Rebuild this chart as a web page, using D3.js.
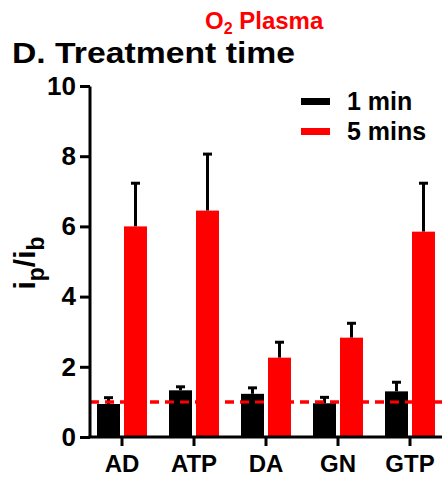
<!DOCTYPE html>
<html>
<head>
<meta charset="utf-8">
<script src="https://cdn.jsdelivr.net/npm/d3@7"></script>
<style>
body{margin:0;background:#fff}
svg{display:block;font-family:"Liberation Sans",Arial,sans-serif;font-weight:bold}
</style>
</head>
<body>
<svg id="chart" width="442" height="478"></svg>
<script>
const cats = ['AD','ATP','DA','GN','GTP']
const series = ['1 min','5 mins']
const min1 = [0.94,1.33,1.23,0.96,1.30]
const min1err = [0.18,0.10,0.17,0.17,0.26]
const min5 = [6.0,6.45,2.26,2.83,5.85]
const min5err = [1.23,1.61,0.44,0.41,1.38]
const yTicks = [0,2,4,6,8,10]
const cols = ['#000','#ff0000']

const svg = d3.select('#chart')

const x = d3.scaleBand().domain(cats).range([86,446])
const y = d3.scaleLinear().domain([0,10]).range([437,86])
const bw = 23, gap = 2

// title
svg.append('text').attr('x',205).attr('y',29).attr('fill','#f00').style('font-size','24px')
	.html('O<tspan dy="5" style="font-size:16px">2</tspan><tspan dy="-5"> Plasma</tspan>')
svg.append('text').attr('x',12).attr('y',63).style('font-size','30px')
	.attr('textLength',283).attr('lengthAdjust','spacingAndGlyphs')
	.text('D. Treatment time')

const refLine = () => svg.append('line')
	.attr('x1',90).attr('x2',442)
	.attr('y1',y(1)).attr('y2',y(1))
	.attr('stroke','#f00').attr('stroke-width',3)
	.attr('stroke-dasharray','9,6')

refLine()

const data = [min1,min5]
const errs = [min1err,min5err]

data.forEach((vals,s)=>{
	const g = svg.append('g')
	const xo = c => s == 0 ? x(c) + x.bandwidth()/2 - gap - bw : x(c) + x.bandwidth()/2 + gap
	// error bars (upward only)
	g.selectAll('.err').data(cats).enter().append('line')
		.attr('x1',c=>xo(c)+bw/2).attr('x2',c=>xo(c)+bw/2)
		.attr('y1',(c,i)=>y(vals[i])).attr('y2',(c,i)=>y(vals[i]+errs[s][i]))
		.attr('stroke','#000').attr('stroke-width',3)
	g.selectAll('.cap').data(cats).enter().append('line')
		.attr('x1',c=>xo(c)+bw/2-4.5).attr('x2',c=>xo(c)+bw/2+4.5)
		.attr('y1',(c,i)=>y(vals[i]+errs[s][i])).attr('y2',(c,i)=>y(vals[i]+errs[s][i]))
		.attr('stroke','#000').attr('stroke-width',3)
	g.selectAll('rect').data(cats).enter().append('rect')
		.attr('x',c=>xo(c)).attr('width',bw)
		.attr('y',(c,i)=>y(vals[i])).attr('height',(c,i)=>y(0)-y(vals[i]))
		.attr('fill',cols[s])
})

// dashed line shows over the black bars too
refLine()

// y axis
const yAxis = svg.append('g').attr('transform','translate(90,0)')
	.call(d3.axisLeft(y).tickValues(yTicks).tickSize(10).tickPadding(4).tickSizeOuter(0))
yAxis.select('.domain').attr('stroke-width',3).attr('d','M0,86.5V437')
yAxis.selectAll('.tick line').attr('stroke-width',3)
yAxis.selectAll('.tick text').style('font-size','26px').style('font-family','"Liberation Sans",Arial,sans-serif').style('font-weight','bold').attr('fill','#000')

// x axis
const xAxis = svg.append('g').attr('transform','translate(0,437)')
	.call(d3.axisBottom(x).tickSize(9).tickPadding(9).tickSizeOuter(0))
xAxis.select('.domain').attr('stroke-width',3).attr('d','M88.5,0H442')
xAxis.selectAll('.tick line').attr('stroke-width',3)
xAxis.selectAll('.tick text').style('font-size','24px').style('font-family','"Liberation Sans",Arial,sans-serif').style('font-weight','bold').attr('fill','#000')

// y title
svg.append('text')
	.attr('transform','translate(35,263) rotate(-90)')
	.attr('text-anchor','middle')
	.style('font-size','30px')
	.html('i<tspan dy="9" style="font-size:23px">p</tspan><tspan dy="-9">/i</tspan><tspan dy="9" style="font-size:23px">b</tspan>')

// legend
const lg = svg.selectAll('.legend').data(series).enter().append('g')
	.attr('transform',(d,i)=>`translate(301,${98 + i*30})`)
lg.append('rect').attr('width',29).attr('height',7).attr('fill',(d,i)=>cols[i])
lg.append('text').attr('x',46).attr('y',12).style('font-size','25px').text(d=>d)
</script>
</body>
</html>
